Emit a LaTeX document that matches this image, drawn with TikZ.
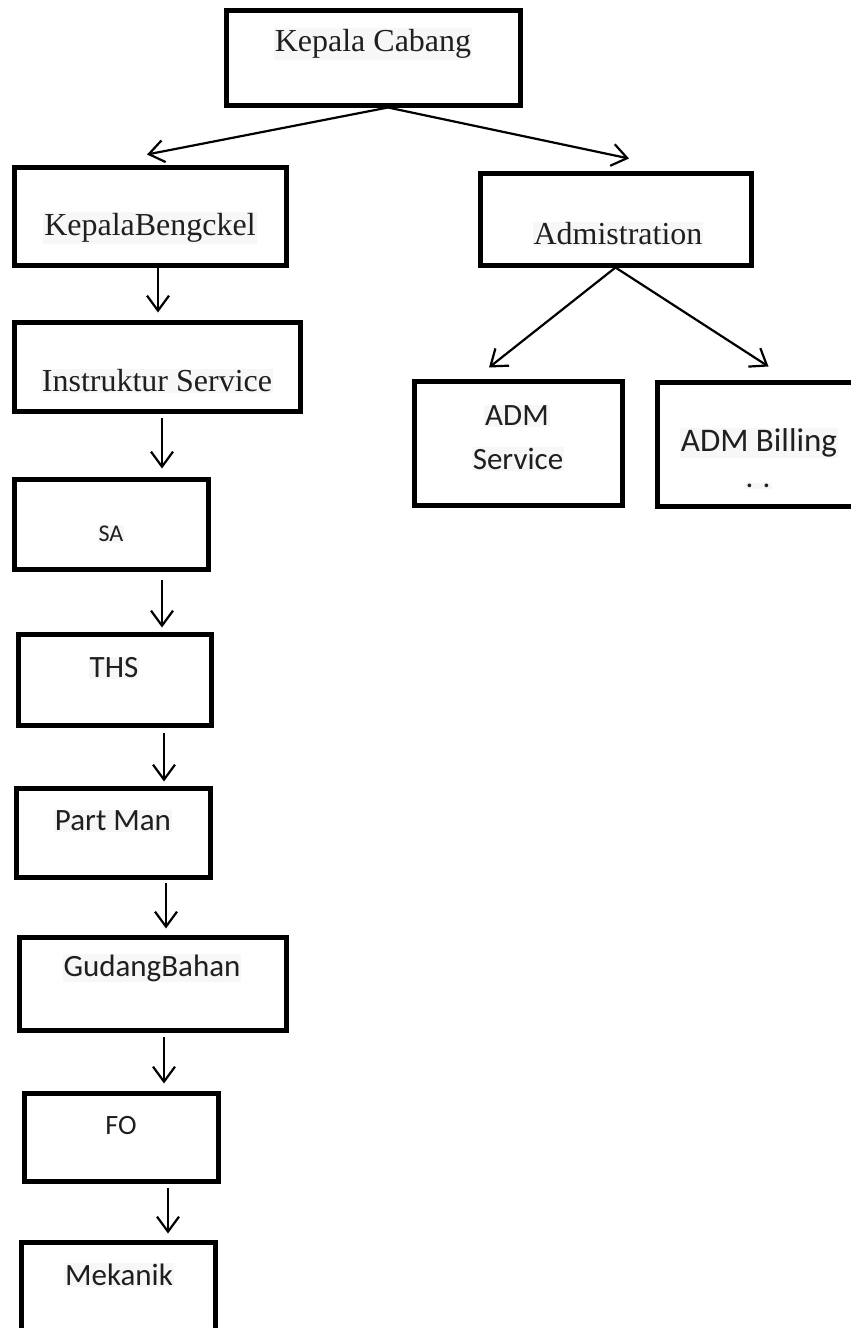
\documentclass[tikz,border=0pt]{standalone}
\usepackage{fontspec}
\setmainfont{Liberation Serif}
\newfontfamily\calibfont{Carlito}
\usetikzlibrary{arrows.meta}
\begin{document}
\begin{tikzpicture}[x=1pt,y=-1pt,
  box/.style={draw=black, line width=5pt, inner sep=0pt},
  serlbl/.style={font=\fontsize{32}{38}\selectfont, text=black!88, fill=black!3, inner sep=1pt},
  sanlbl/.style={font=\calibfont\fontsize{31}{37}\selectfont, text=black!88, fill=black!3, inner sep=1pt},
  conn/.style={line width=2.2pt, -{Straight Barb[length=15pt,width=22pt]}}]
\path[use as bounding box] (0,0) rectangle (851,1328);
\clip (0,0) rectangle (851,1328);
% boxes
\node[box, minimum width=294pt, minimum height=95pt] (kc) at (373,57.5) {};
\node[box, minimum width=272pt, minimum height=98pt] (kb) at (150,216) {};
\node[box, minimum width=271pt, minimum height=92pt] (adm) at (615.5,219) {};
\node[box, minimum width=286pt, minimum height=89pt] (ins) at (157,366.5) {};
\node[box, minimum width=208pt, minimum height=124pt] (ads) at (518,443) {};
\node[box, minimum width=223pt, minimum height=124pt] (adb) at (768.5,444) {};
\node[box, minimum width=194pt, minimum height=90pt] (sa) at (111,524) {};
\node[box, minimum width=193pt, minimum height=91pt] (ths) at (114.5,679.5) {};
\node[box, minimum width=194pt, minimum height=89pt] (pm) at (113,832.5) {};
\node[box, minimum width=267pt, minimum height=93pt] (gb) at (152.5,983.5) {};
\node[box, minimum width=194pt, minimum height=88pt] (fo) at (121,1137) {};
\node[box, minimum width=194pt, minimum height=93pt] (mk) at (118,1288.5) {};
% labels
\node[serlbl] (tkc) at (373,44) {Kepala Cabang};
\node[serlbl] (tkb) at (150,228) {KepalaBengckel};
\node[serlbl] (tadm) at (618,234) {Admistration};
\node[serlbl] (tins) at (157,381) {Instruktur Service};
\node[sanlbl] (tads1) at (517,416) {ADM};
\node[sanlbl] (tads2) at (518,459) {Service};
\node[sanlbl, font=\calibfont\fontsize{33}{39}\selectfont] (tadb) at (759,443) {ADM Billing};
\node[sanlbl] (tadb2) at (758,486) {. .};
\node[sanlbl, font=\calibfont\fontsize{24}{29}\selectfont] (tsa) at (111,534) {SA};
\node[sanlbl] (tths) at (114,668) {THS};
\node[sanlbl] (tpm) at (113,821) {Part Man};
\node[sanlbl] (tgb) at (152,968) {GudangBahan};
\node[sanlbl, font=\calibfont\fontsize{28}{34}\selectfont, fill=none] (tfo) at (121,1125) {FO};
\node[sanlbl] (tmk) at (119,1275) {Mekanik};
% connectors
\draw[conn] ([xshift=15pt]kc.south) -- ([xshift=-3pt,yshift=10pt]kb.north);
\draw[conn] ([xshift=15pt]kc.south) -- ([xshift=13.5pt,yshift=12pt]adm.north);
\draw[conn] (adm.south) -- ([xshift=-29pt,yshift=11pt]ads.north);
\draw[conn] (adm.south) -- ([yshift=13pt]adb.north);
\draw[conn] ([xshift=8pt,yshift=5pt]kb.south) -- ([xshift=1pt,yshift=7pt]ins.north);
\draw[conn] ([xshift=5pt,yshift=-4pt]ins.south) -- ([xshift=51pt,yshift=8pt]sa.north);
\draw[conn] ([xshift=51pt,yshift=-8pt]sa.south) -- ([xshift=47.5pt,yshift=4pt]ths.north);
\draw[conn] ([xshift=49.5pt,yshift=-5pt]ths.south) -- ([xshift=51pt,yshift=4pt]pm.north);
\draw[conn] ([xshift=53pt,yshift=-3pt]pm.south) -- ([xshift=13.5pt,yshift=6pt]gb.north);
\draw[conn] ([xshift=11.5pt,yshift=-4pt]gb.south) -- ([xshift=43pt,yshift=7pt]fo.north);
\draw[conn] ([xshift=47pt,yshift=-4pt]fo.south) -- ([xshift=50pt,yshift=6pt]mk.north);
\end{tikzpicture}
\end{document}
